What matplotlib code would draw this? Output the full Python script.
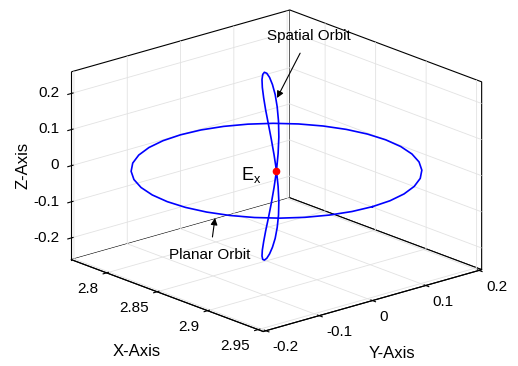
import numpy as np
import matplotlib
matplotlib.use('Agg')
import matplotlib.pyplot as plt

plt.rcParams['font.family'] = ['Liberation Sans', 'DejaVu Sans']
plt.rcParams['grid.color'] = '#e2e2e2'
plt.rcParams['grid.linewidth'] = 0.6

# equilibrium point E_x
ex_point = [2.86, 0.0, 0.0]

# planar orbit (z = 0)
planar_x = [2.9550, 2.9536, 2.9493, 2.9423, 2.9328, 2.9211, 2.9075, 2.8925, 2.8765,
            2.8600, 2.8435, 2.8275, 2.8125, 2.7989, 2.7872, 2.7777, 2.7707, 2.7664,
            2.7650, 2.7664, 2.7707, 2.7777, 2.7872, 2.7989, 2.8125, 2.8275, 2.8435,
            2.8600, 2.8765, 2.8925, 2.9075, 2.9211, 2.9328, 2.9423, 2.9493, 2.9536, 2.9550]
planar_y = [0.0, 0.0356, 0.0701, 0.1025, 0.1318, 0.1570, 0.1775, 0.1926, 0.2019,
            0.2050, 0.2019, 0.1926, 0.1775, 0.1570, 0.1318, 0.1025, 0.0701, 0.0356,
            0.0, -0.0356, -0.0701, -0.1025, -0.1318, -0.1570, -0.1775, -0.1926, -0.2019,
            -0.2050, -0.2019, -0.1926, -0.1775, -0.1570, -0.1318, -0.1025, -0.0701, -0.0356, 0.0]
planar_z = np.zeros(len(planar_x))

# spatial orbit (figure eight through E_x)
spatial_x = [2.8600, 2.8596, 2.8586, 2.8570, 2.8550, 2.8530, 2.8510, 2.8494, 2.8484,
             2.8480, 2.8484, 2.8494, 2.8510, 2.8530, 2.8550, 2.8570, 2.8586, 2.8596,
             2.8600, 2.8596, 2.8586, 2.8570, 2.8550, 2.8530, 2.8510, 2.8494, 2.8484,
             2.8480, 2.8484, 2.8494, 2.8510, 2.8530, 2.8550, 2.8570, 2.8586, 2.8596, 2.8600]
spatial_y = [0.0, 0.0038, 0.0071, 0.0095, 0.0108, 0.0108, 0.0095, 0.0071, 0.0038,
             0.0, -0.0038, -0.0071, -0.0095, -0.0108, -0.0108, -0.0095, -0.0071, -0.0038,
             0.0, 0.0038, 0.0071, 0.0095, 0.0108, 0.0108, 0.0095, 0.0071, 0.0038,
             0.0, -0.0038, -0.0071, -0.0095, -0.0108, -0.0108, -0.0095, -0.0071, -0.0038, 0.0]
spatial_z = [0.0, 0.0452, 0.0889, 0.1300, 0.1671, 0.1992, 0.2252, 0.2443, 0.2561,
             0.2600, 0.2561, 0.2443, 0.2252, 0.1992, 0.1671, 0.1300, 0.0889, 0.0452,
             0.0, -0.0452, -0.0889, -0.1300, -0.1671, -0.1992, -0.2252, -0.2443, -0.2561,
             -0.2600, -0.2561, -0.2443, -0.2252, -0.1992, -0.1671, -0.1300, -0.0889, -0.0452, 0.0]

x_ticks = [2.8, 2.85, 2.9, 2.95]
y_ticks = [-0.2, -0.1, 0, 0.1, 0.2]
z_ticks = [-0.2, -0.1, 0, 0.1, 0.2]
x_ticklabels = ['2.8', '2.85', '2.9', '2.95']
y_ticklabels = ['-0.2', '-0.1', '0', '0.1', '0.2']
z_ticklabels = ['-0.2', '-0.1', '0', '0.1', '0.2']

W, H = 518, 366
fig = plt.figure(figsize=(W / 100, H / 100), dpi=100)
ax = fig.add_axes([0.0242, 0.02, 1.0, 1.0], projection='3d', proj_type='ortho')
ax.view_init(elev=19, azim=-41)
ax.set_box_aspect((293, 290, 199), zoom=1.212)

ax.plot(planar_x, planar_y, planar_z, color='b', lw=1.2)
ax.plot(spatial_x, spatial_y, spatial_z, color='b', lw=1.2)
ax.plot([ex_point[0]], [ex_point[1]], [ex_point[2]], 'o', color='r', ms=4.5)

ax.set_xlim(2.765, 2.955)
ax.set_ylim(-0.205, 0.205)
ax.set_zlim(-0.26, 0.26)
ax.set_xticks(x_ticks)
ax.set_yticks(y_ticks)
ax.set_zticks(z_ticks)
ax.set_xticklabels(x_ticklabels, ha='right', va='top')
ax.set_yticklabels(y_ticklabels, ha='left', va='top')
ax.set_zticklabels(z_ticklabels, ha='right', va='center')
ax.tick_params(labelsize=11)
ax.xaxis.set_tick_params(pad=-3)
ax.yaxis.set_tick_params(pad=-3)
ax.zaxis.set_tick_params(pad=-4)
ax.zaxis.set_ticks_position('lower')

for axis in (ax.xaxis, ax.yaxis, ax.zaxis):
    axis.set_pane_color((1, 1, 1, 1))
    axis.pane.set_edgecolor('k')
    axis.pane.set_linewidth(0.8)
    axis.line.set_color('k')
    axis.line.set_linewidth(0.8)


def px(x, y):
    return (x / W, 1 - y / H)


fig.text(*px(137, 352), 'X-Axis', fontsize=12, ha='center', va='center')
fig.text(*px(392, 354), 'Y-Axis', fontsize=12, ha='center', va='center')
fig.text(*px(23, 165), 'Z-Axis', fontsize=12, ha='center', va='center', rotation=90)
fig.text(*px(251, 175), r'E$_{\mathregular{x}}$', fontsize=13, ha='center', va='center')

ax.annotate('Spatial Orbit', xy=px(277, 98), xycoords='figure fraction',
            xytext=px(309, 36), textcoords='figure fraction', fontsize=11,
            ha='center', va='center',
            arrowprops=dict(arrowstyle='-|>', color='k', lw=0.8, shrinkA=6, shrinkB=0,
                            mutation_scale=10))
ax.annotate('Planar Orbit', xy=px(215, 218), xycoords='figure fraction',
            xytext=px(210, 255), textcoords='figure fraction', fontsize=11,
            ha='center', va='center',
            arrowprops=dict(arrowstyle='-|>', color='k', lw=0.8, shrinkA=6, shrinkB=0,
                            mutation_scale=10))

fig.savefig('out.png', dpi=100)
